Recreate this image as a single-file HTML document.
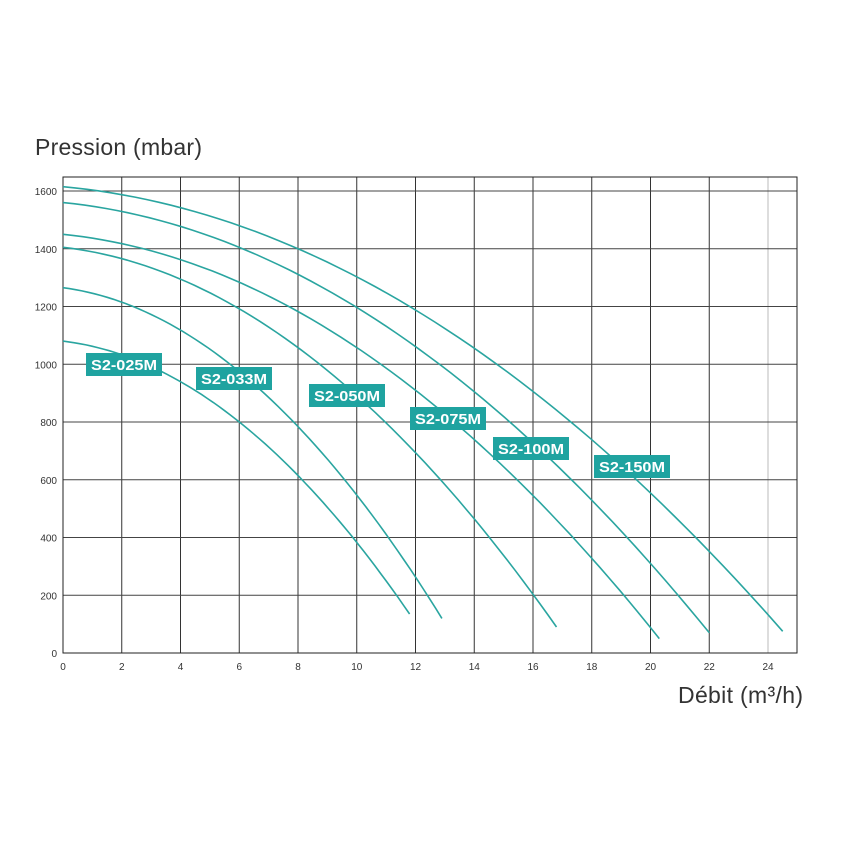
<!DOCTYPE html>
<html><head><meta charset="utf-8"><style>
body{margin:0;background:#fff;width:850px;height:850px;overflow:hidden;font-family:"Liberation Sans",sans-serif}
</style></head><body>
<svg id="s" width="850" height="850" xmlns="http://www.w3.org/2000/svg" font-family="Liberation Sans, sans-serif">
<text x="35" y="155" font-size="23" fill="#333" textLength="167">Pression (mbar)</text>
<text x="678" y="703" font-size="23" fill="#333" textLength="125">Débit (m³/h)</text>
<g id="grid"></g>
<g id="curves" fill="none" stroke="#2aa5a0" stroke-width="1.6"></g>
<g id="labels"></g>
</svg>
<script>
const NS="http://www.w3.org/2000/svg";
const X=q=>63+q*29.375, Y=h=>653-h*0.28875;
const g=document.getElementById('grid');
function el(p,tag,a,t){const e=document.createElementNS(NS,tag);for(const k in a)e.setAttribute(k,a[k]);if(t!==undefined)e.textContent=String(t);p.appendChild(e);return e;}
for(let q=2;q<=22;q+=2){el(g,'line',{x1:X(q),x2:X(q),y1:177,y2:653,stroke:'#333','stroke-width':1});}
el(g,'line',{x1:X(24),x2:X(24),y1:177,y2:653,stroke:'#bbb','stroke-width':1});
for(let h=200;h<=1600;h+=200){el(g,'line',{x1:63,x2:797,y1:Y(h),y2:Y(h),stroke:'#444','stroke-width':1});}
el(g,'rect',{x:63,y:177,width:734,height:476,fill:'none',stroke:'#222','stroke-width':1});
for(let q=0;q<=24;q+=2)el(g,'text',{x:X(q),y:670,'font-size':10,'text-anchor':'middle',fill:'#333'},q);
for(let h=0;h<=1600;h+=200)el(g,'text',{x:57,y:Y(h)+4,'font-size':10,'text-anchor':'end',fill:'#333'},h);
const c=document.getElementById('curves');
[[1615,24.5,75],[1560,22,70],[1450,20.3,50],[1405,16.8,90],[1265,12.9,120],[1080,11.8,135]].forEach(([h0,qm,he])=>{
 let d='',D=h0-he;for(let i=0;i<=60;i++){let t=i/60,q=t*qm,h=h0-D*(0.15*t+0.85*t*t);d+=(i?'L':'M')+X(q).toFixed(1)+' '+Y(h).toFixed(1);}
 el(c,'path',{d});});
const L=document.getElementById('labels');
[['S2-025M',86,353],['S2-033M',196,367],['S2-050M',309,384],['S2-075M',410,407],['S2-100M',493,437],['S2-150M',594,455]].forEach(([t,x,y])=>{
 el(L,'rect',{x,y,width:76,height:23,fill:'#1fa3a0'});
 el(L,'text',{x:x+5,y:y+17,'font-size':15,'font-weight':'bold',fill:'#fff',textLength:66,lengthAdjust:'spacingAndGlyphs'},t);});
</script>
</body></html>
